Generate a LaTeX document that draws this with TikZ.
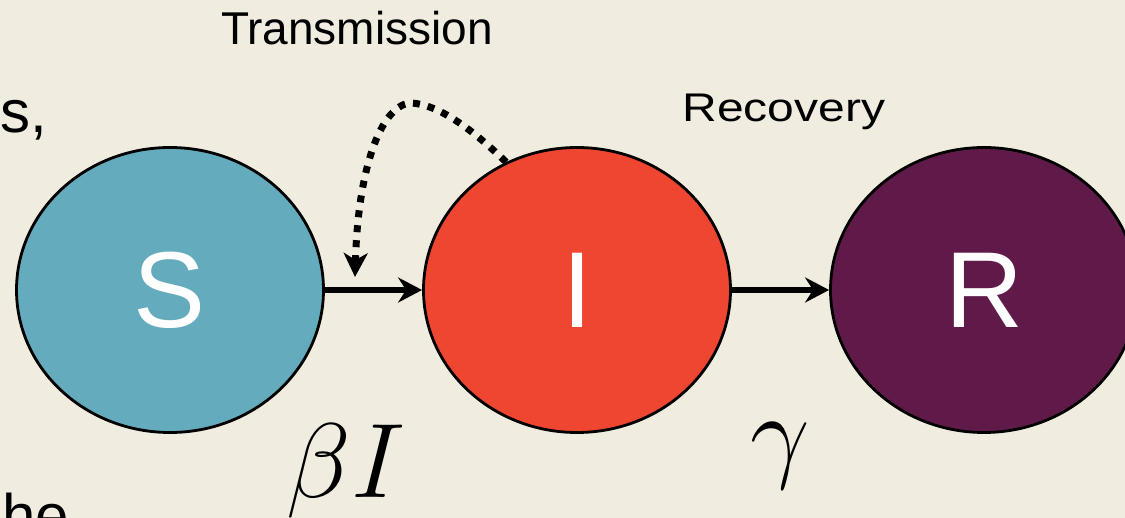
\RequirePackage{fix-cm}
\documentclass[tikz,border=0pt]{standalone}
\usepackage{fontspec}
\setmainfont{Liberation Sans}
\usepackage{graphicx}
\usetikzlibrary{arrows.meta,shapes.geometric}
\definecolor{bg}{RGB}{240,237,224}
\definecolor{scol}{RGB}{99,171,189}
\definecolor{icol}{RGB}{239,70,49}
\definecolor{rcol}{RGB}{96,26,74}
\tikzset{
  state/.style={ellipse, draw=black, line width=2.8pt, minimum width=307pt, minimum height=285pt,
    inner sep=0pt, text=white, font=\fontsize{108}{120}\selectfont},
  flow/.style={line width=6.5pt, -{Stealth[length=24pt,width=25pt,inset=8pt]}},
  feedback/.style={line width=7pt, dash pattern=on 7pt off 8pt,
    -{Stealth[length=24pt,width=24pt,inset=7pt]}},
  lbl/.style={inner sep=0pt, anchor=base},
  rate/.style={inner sep=0pt, anchor=base, font=\fontsize{106}{120}\selectfont},
  frag/.style={inner sep=0pt, anchor=base west, font=\fontsize{60}{70}\selectfont}
}
\begin{document}
\begin{tikzpicture}[x=1pt,y=-1pt]
\useasboundingbox (0,0) rectangle (1125,518);
\fill[bg] (0,0) rectangle (1125,518);
\node[state, fill=scol] (S) at (170,290) {S};
\node[state, fill=icol] (I) at (577,290) {I};
\node[state, fill=rcol] (R) at (984,290) {R};
\draw[flow] (S) -- (I);
\draw[flow] (I) -- (R);
\coordinate (tgt) at (355,277);
\draw[feedback] (I.119) .. controls (478,135) and (440,103) .. (409,103)
   .. controls (380,108) and (358,170) .. (tgt);
\node[lbl, font=\fontsize{46}{54}\selectfont] (trans) at (357,45) {Transmission};
\node[lbl, font=\fontsize{40}{48}\selectfont] (rec) at (784,122) {\scalebox{1.2}[1]{Recovery}};
\node[rate] (beta) at (346,497) {$\beta I$};
\node[rate] (gamma) at (780,469) {$\gamma$};
\node[frag] (frag1) at (0,133) {s,};
\node[frag] (frag2) at (2,536) {he};
\end{tikzpicture}
\end{document}
